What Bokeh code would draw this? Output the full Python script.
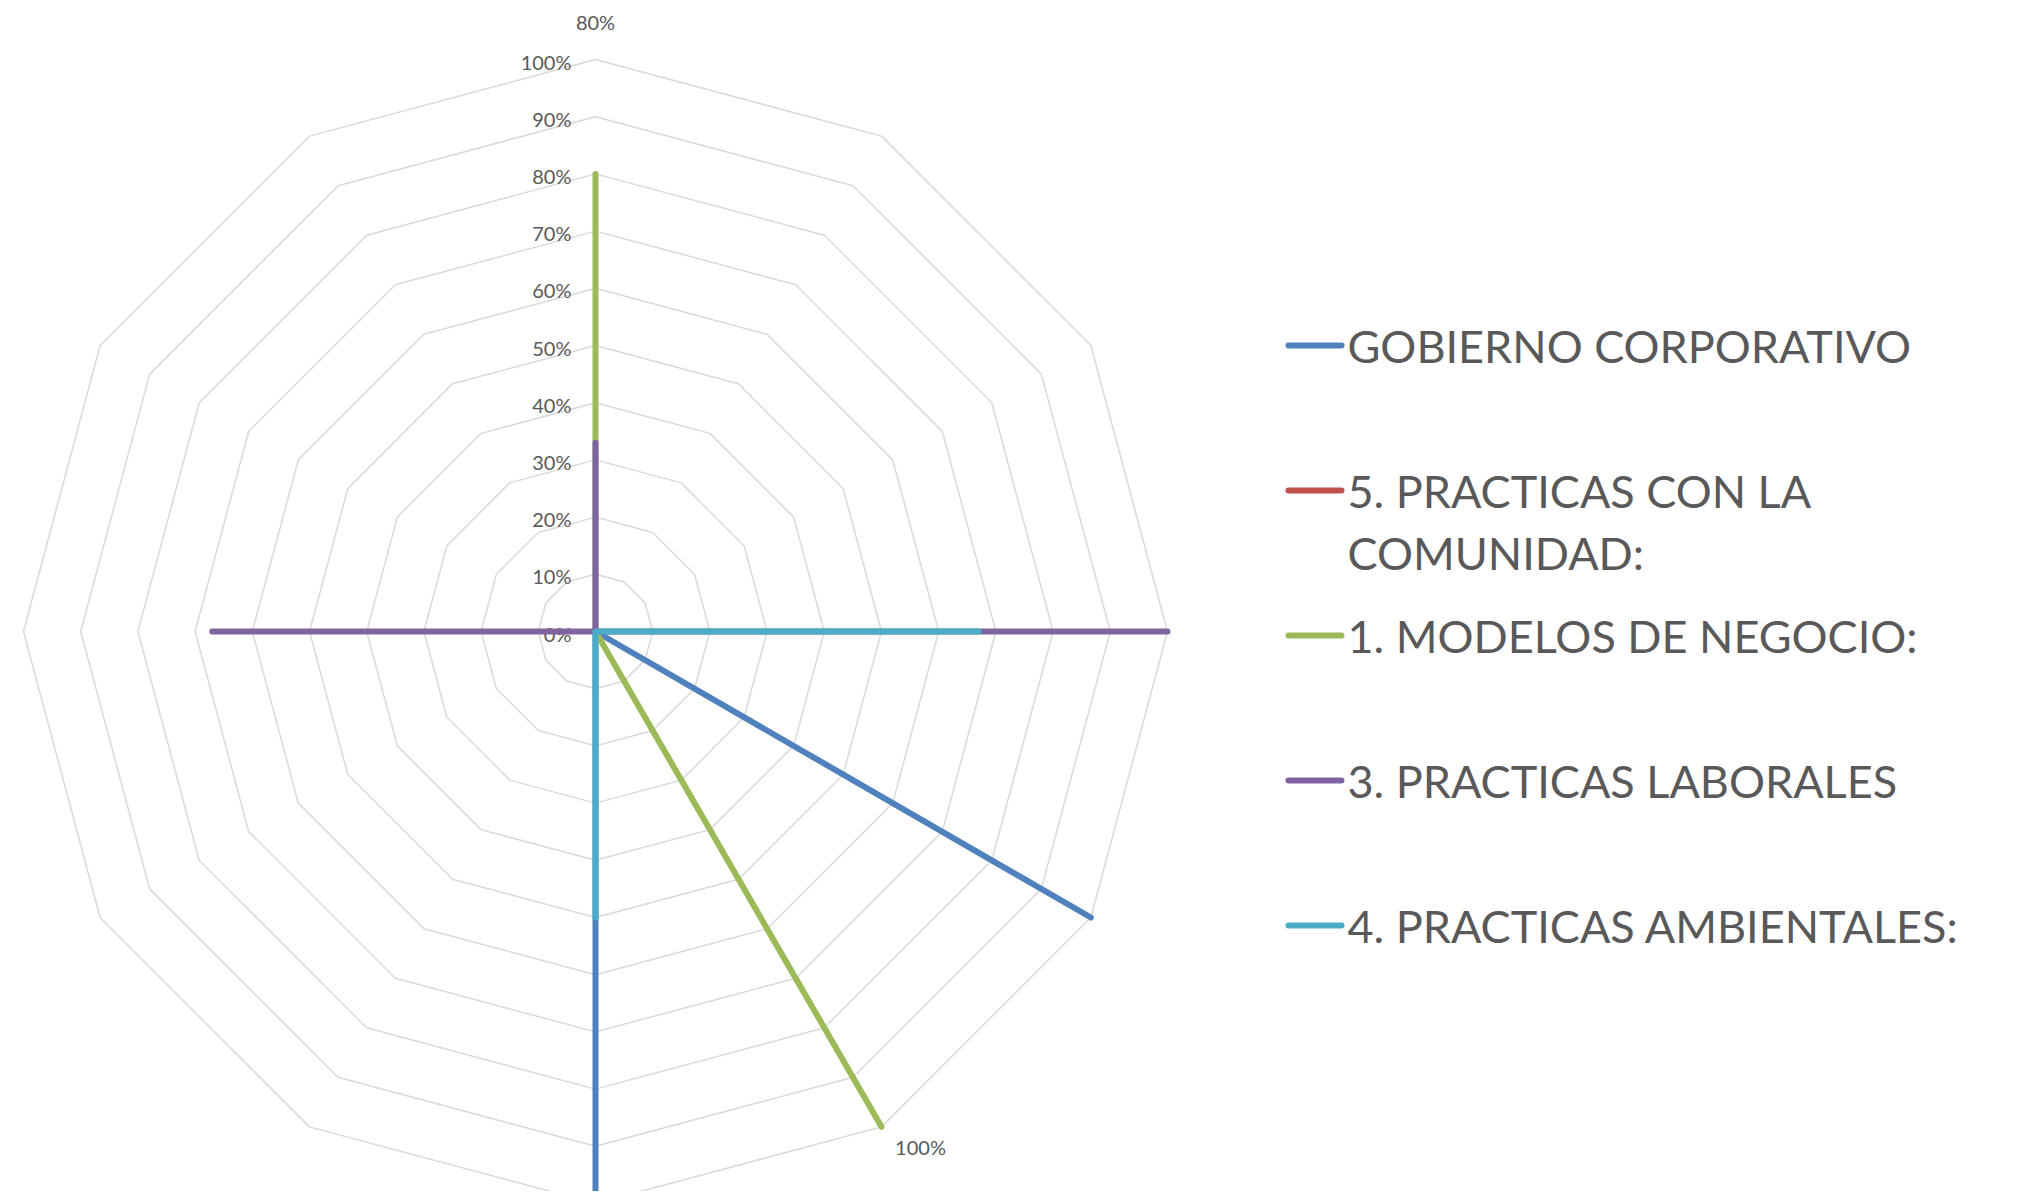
import numpy as np
from bokeh.plotting import figure
from bokeh.models import Range1d
from bokeh.core.properties import value
from bokeh.embed import file_html
from bokeh.resources import INLINE

# ---------------- data ----------------
categories = ["1", "2", "3", "4", "5", "6", "7", "8", "9", "10", "11", "12"]
series_names = ["GOBIERNO CORPORATIVO",
                "5. PRACTICAS CON LA\nCOMUNIDAD:",
                "1. MODELOS DE NEGOCIO:",
                "3. PRACTICAS LABORALES",
                "4. PRACTICAS AMBIENTALES:"]
gobierno    = [0.00, 0, 0, 0.00, 1.00, 0.00, 1.00, 0, 0, 0.00, 0, 0]
comunidad   = [0.00, 0, 0, 0.00, 0.00, 0.00, 0.00, 0, 0, 0.00, 0, 0]
modelos     = [0.80, 0, 0, 0.00, 0.00, 1.00, 0.00, 0, 0, 0.00, 0, 0]
laborales   = [0.33, 0, 0, 1.00, 0.00, 0.00, 0.00, 0, 0, 0.67, 0, 0]
ambientales = [0.00, 0, 0, 0.67, 0.00, 0.00, 0.50, 0, 0, 0.00, 0, 0]
series_values = [gobierno, comunidad, modelos, laborales, ambientales]
series_colors = ["#4F81BD", "#C0504D", "#9BBB59", "#8064A2", "#4BACC6"]
ring_levels = [0.0, 0.1, 0.2, 0.3, 0.4, 0.5, 0.6, 0.7, 0.8, 0.9, 1.0]
tick_labels = ["0%", "10%", "20%", "30%", "40%", "50%", "60%", "70%", "80%", "90%", "100%"]
# data labels shown on the chart: (series index, category index, text)
data_labels = [(2, 0, "80%"), (2, 5, "100%")]

# ---------------- layout (pixels) ----------------
W, H = 2002, 1191
OX, OY = 0, 0                  # figure origin in picture pixels
CX, CY, R = 595, 631, 572      # picture pixel centre and 100 % radius
FONT = "Lato"
TXT = "#595959"

def px(x, y):
    """picture pixel -> data coordinates"""
    return (x - CX) / R, (CY - y) / R

x0, y1 = px(OX, OY)
x1, y0 = px(OX + W, OY + H)

p = figure(width=W, height=H, x_range=Range1d(x0, x1), y_range=Range1d(y0, y1),
           x_axis_type=None, y_axis_type=None, output_backend="svg",
           toolbar_location=None, min_border=0, outline_line_color=None,
           background_fill_color="white", border_fill_color="white")
p.grid.visible = False

n = len(categories)
theta = np.pi / 2 - np.arange(n) * 2 * np.pi / n

# rings
xs, ys = [], []
for lv in ring_levels[1:]:
    xs.append(list(np.append(lv * np.cos(theta), lv * np.cos(theta[0]))))
    ys.append(list(np.append(lv * np.sin(theta), lv * np.sin(theta[0]))))
p.multi_line(xs, ys, line_color="#D9D9D9", line_width=1.5)

# tick labels
tx = [0.0] * len(ring_levels)
ty = [lv for lv in ring_levels]
p.text(tx, ty, text=tick_labels, x_offset=-24, y_offset=2, text_align="right",
       text_baseline="middle", text_font=value(FONT), text_font_size="20px",
       text_color=TXT)

# series
for vals, col in zip(series_values, series_colors):
    v = np.array(vals, dtype=float)
    sx = np.append(v * np.cos(theta), v[0] * np.cos(theta[0]))
    sy = np.append(v * np.sin(theta), v[0] * np.sin(theta[0]))
    p.line(sx, sy, line_color=col, line_width=6, line_join="round", line_cap="round")

# data labels
label_offsets = {(2, 0): (0, -152), (2, 5): (39, 20)}
for si, ci, t in data_labels:
    v = series_values[si][ci]
    lx = v * np.cos(theta[ci])
    ly = v * np.sin(theta[ci])
    ox, oy = label_offsets[(si, ci)]
    p.text([lx], [ly], text=[t], x_offset=ox, y_offset=oy, text_align="center",
           text_baseline="middle", text_font=value(FONT), text_font_size="20px",
           text_color=TXT)

# legend (manual)
leg_y = [345, 490, 635, 780, 925]
for name, col, yy in zip(series_names, series_colors, leg_y):
    ax, ay = px(1288, yy)
    bx, _ = px(1341, yy)
    p.segment([ax], [ay], [bx], [ay], line_color=col, line_width=6, line_cap="round")
    for k, line in enumerate(name.split("\n")):
        lx, ly = px(1347, yy + k * 62)
        p.text([lx], [ly], text=[line], text_align="left", text_baseline="middle",
               text_font=value(FONT), text_font_size="45px", text_color=TXT)

open("out.html", "w").write(file_html(p, INLINE))
